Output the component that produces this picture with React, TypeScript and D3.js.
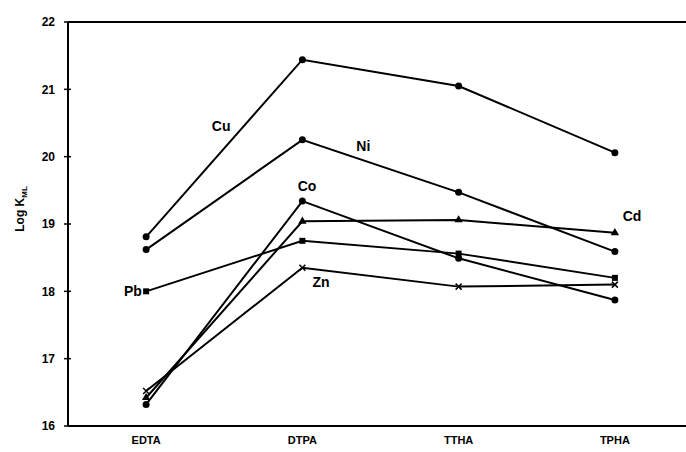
import React, { useRef, useEffect } from 'react';
import * as d3 from 'd3';

const ligands = ['EDTA', 'DTPA', 'TTHA', 'TPHA'];
const yTicks = [16, 17, 18, 19, 20, 21, 22];

// log K values, one array per metal
const cuValues = [18.81, 21.44, 21.05, 20.06];
const niValues = [18.62, 20.25, 19.47, 18.59];
const coValues = [16.32, 19.34, 18.49, 17.87];
const cdValues = [16.42, 19.04, 19.06, 18.87];
const pbValues = [18.0, 18.75, 18.56, 18.2];
const znValues = [16.52, 18.35, 18.07, 18.1];

const series = [
  { name: 'Cu', values: cuValues, marker: 'circle' },
  { name: 'Ni', values: niValues, marker: 'circle' },
  { name: 'Co', values: coValues, marker: 'circle' },
  { name: 'Cd', values: cdValues, marker: 'triangle' },
  { name: 'Pb', values: pbValues, marker: 'square' },
  { name: 'Zn', values: znValues, marker: 'cross' }
];

// label anchors: offset from a ligand index (in steps) and a value
const seriesLabels = [
  { name: 'Cu', at: 0.48, value: 20.45, onIndex: 0 },
  { name: 'Ni', at: 0.39, value: 20.16, onIndex: 1 },
  { name: 'Co', at: 0.03, value: 19.57, onIndex: 1 },
  { name: 'Zn', at: 0.12, value: 18.13, onIndex: 1 },
  { name: 'Pb', at: -0.085, value: 18.0, onIndex: 0 },
  { name: 'Cd', at: 0.11, value: 19.12, onIndex: 3 }
];

const App: React.FC = () => {
  const svgRef = useRef<SVGSVGElement>(null);
  const width = 686;
  const height = 452;

  useEffect(() => {
    const svg = d3.select(svgRef.current);
    svg.selectAll('*').remove();

    const left = 68;
    const top = 22;
    const bottom = 426;

    const xScale = d3.scalePoint<string>()
      .domain(ligands)
      .range([left, left + 625])
      .padding(0.5);

    const yScale = d3.scaleLinear()
      .domain([16, 22])
      .range([bottom, top]);

    const font = '"Liberation Sans", Arial, sans-serif';
    const step = xScale.step();

    // frame: left, top and bottom lines
    svg.append('line')
      .attr('x1', left).attr('x2', left)
      .attr('y1', top).attr('y2', bottom)
      .attr('stroke', '#000').attr('stroke-width', 2);
    svg.append('line')
      .attr('x1', left).attr('x2', width)
      .attr('y1', top).attr('y2', top)
      .attr('stroke', '#000').attr('stroke-width', 2);
    svg.append('line')
      .attr('x1', left).attr('x2', width)
      .attr('y1', bottom).attr('y2', bottom)
      .attr('stroke', '#000').attr('stroke-width', 2);

    // y ticks
    const yAxis = svg.append('g');
    yAxis.selectAll('line')
      .data(yTicks)
      .enter()
      .append('line')
      .attr('x1', left - 4)
      .attr('x2', left + 3)
      .attr('y1', d => yScale(d))
      .attr('y2', d => yScale(d))
      .attr('stroke', '#000')
      .attr('stroke-width', 1.5);
    yAxis.selectAll('text')
      .data(yTicks)
      .enter()
      .append('text')
      .attr('x', 55)
      .attr('y', d => yScale(d))
      .attr('dy', '0.35em')
      .attr('text-anchor', 'end')
      .style('font-family', font)
      .style('font-weight', 'bold')
      .style('font-size', '12px')
      .text(d => d);

    // x labels
    svg.selectAll('.xlabel')
      .data(ligands)
      .enter()
      .append('text')
      .attr('class', 'xlabel')
      .attr('x', d => xScale(d) as number)
      .attr('y', 444)
      .attr('text-anchor', 'middle')
      .style('font-family', font)
      .style('font-weight', 'bold')
      .style('font-size', '11px')
      .text(d => d);

    // y axis title
    const yTitle = svg.append('text')
      .attr('transform', 'translate(24,209) rotate(-90)')
      .attr('text-anchor', 'middle')
      .style('font-family', font)
      .style('font-weight', 'bold')
      .style('font-size', '12px');
    yTitle.append('tspan').text('Log K');
    yTitle.append('tspan')
      .attr('dy', 3)
      .style('font-size', '8px')
      .text('ML');

    const line = d3.line<number>()
      .x((_, i) => xScale(ligands[i]) as number)
      .y(d => yScale(d));

    series.forEach(s => {
      svg.append('path')
        .datum(s.values)
        .attr('fill', 'none')
        .attr('stroke', '#000')
        .attr('stroke-width', 2)
        .attr('d', line);

      const g = svg.append('g');
      s.values.forEach((v, i) => {
        const cx = xScale(ligands[i]) as number;
        const cy = yScale(v);
        if (s.marker === 'circle') {
          g.append('circle').attr('cx', cx).attr('cy', cy).attr('r', 3.5).attr('fill', '#000');
        } else if (s.marker === 'square') {
          g.append('rect').attr('x', cx - 3).attr('y', cy - 3).attr('width', 6).attr('height', 6).attr('fill', '#000');
        } else if (s.marker === 'triangle') {
          g.append('path')
            .attr('d', d3.symbol().type(d3.symbolTriangle).size(30)())
            .attr('transform', `translate(${cx},${cy})`)
            .attr('fill', '#000');
        } else {
          g.append('path')
            .attr('d', `M${cx - 3},${cy - 3}L${cx + 3},${cy + 3}M${cx - 3},${cy + 3}L${cx + 3},${cy - 3}`)
            .attr('stroke', '#000')
            .attr('stroke-width', 1.5);
        }
      });
    });

    // series labels
    seriesLabels.forEach(l => {
      svg.append('text')
        .attr('x', left + (l.onIndex + 0.5 + l.at) * step)
        .attr('y', yScale(l.value))
        .attr('dy', '0.35em')
        .attr('text-anchor', 'middle')
        .style('font-family', font)
        .style('font-weight', 'bold')
        .style('font-size', '14px')
        .text(l.name);
    });
  }, []);

  return (
    <svg
      ref={svgRef}
      width={width}
      height={height}
      style={{ position: 'absolute', left: 0, top: 0, background: '#fff' }}
    />
  );
};

export default App;
